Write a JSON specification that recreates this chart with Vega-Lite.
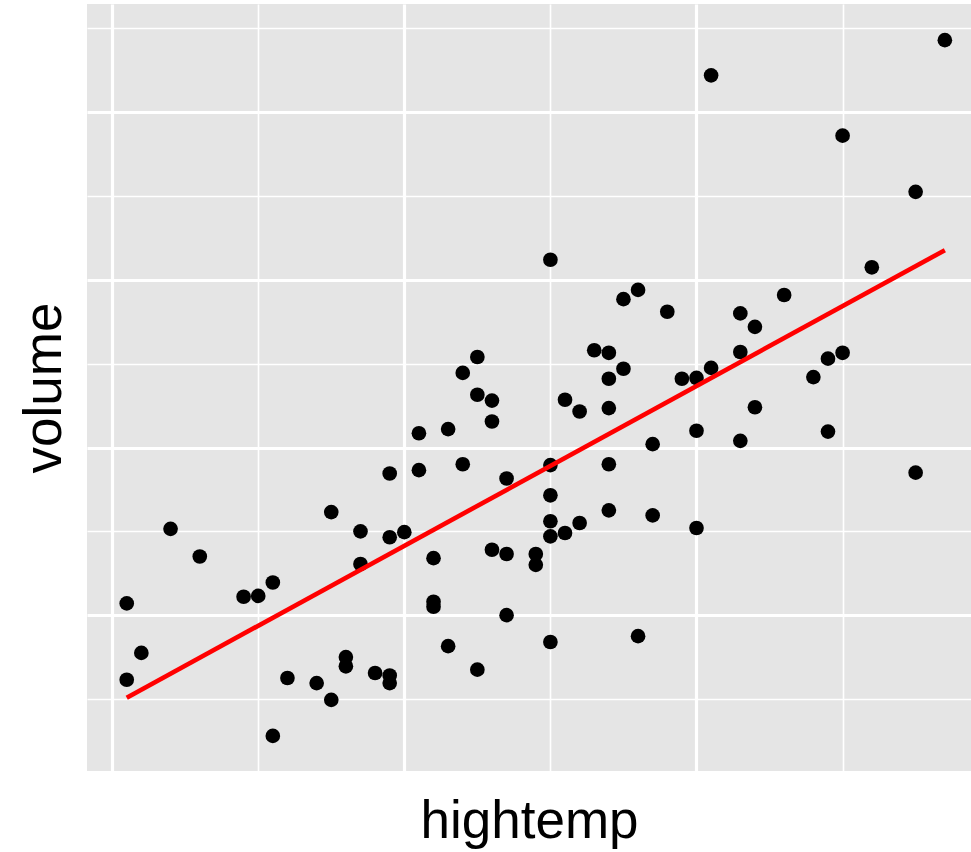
{
  "$schema": "https://vega.github.io/schema/vega-lite/v6.json",
  "width": 884,
  "height": 767,
  "autosize": {"type": "none"},
  "padding": {"left": 87, "top": 4, "right": 0, "bottom": 81},
  "background": "white",
  "config": {
    "view": {"fill": "#E5E5E5", "stroke": null},
    "font": "Liberation Sans"
  },
  "data": {
    "values": [
      {"hightemp": 41, "volume": 214}, {"hightemp": 42, "volume": 155}, {"hightemp": 41, "volume": 123},
      {"hightemp": 44, "volume": 303}, {"hightemp": 46, "volume": 270}, {"hightemp": 49, "volume": 222},
      {"hightemp": 50, "volume": 223}, {"hightemp": 51, "volume": 239}, {"hightemp": 51, "volume": 56},
      {"hightemp": 52, "volume": 125}, {"hightemp": 54, "volume": 119}, {"hightemp": 55, "volume": 99},
      {"hightemp": 55, "volume": 323}, {"hightemp": 56, "volume": 150}, {"hightemp": 56, "volume": 139},
      {"hightemp": 57, "volume": 300}, {"hightemp": 57, "volume": 261}, {"hightemp": 58, "volume": 131},
      {"hightemp": 59, "volume": 128}, {"hightemp": 59, "volume": 119}, {"hightemp": 59, "volume": 369},
      {"hightemp": 59, "volume": 293}, {"hightemp": 60, "volume": 299}, {"hightemp": 61, "volume": 417},
      {"hightemp": 61, "volume": 373}, {"hightemp": 63, "volume": 422}, {"hightemp": 64, "volume": 489},
      {"hightemp": 64, "volume": 380}, {"hightemp": 65, "volume": 508}, {"hightemp": 65, "volume": 463},
      {"hightemp": 66, "volume": 456}, {"hightemp": 66, "volume": 431}, {"hightemp": 62, "volume": 268},
      {"hightemp": 62, "volume": 216}, {"hightemp": 62, "volume": 210}, {"hightemp": 63, "volume": 163},
      {"hightemp": 65, "volume": 135}, {"hightemp": 66, "volume": 278}, {"hightemp": 67, "volume": 273},
      {"hightemp": 67, "volume": 363}, {"hightemp": 67, "volume": 200}, {"hightemp": 69, "volume": 273},
      {"hightemp": 69, "volume": 260}, {"hightemp": 70, "volume": 624}, {"hightemp": 70, "volume": 379},
      {"hightemp": 70, "volume": 343}, {"hightemp": 70, "volume": 312}, {"hightemp": 70, "volume": 294},
      {"hightemp": 70, "volume": 168}, {"hightemp": 71, "volume": 298}, {"hightemp": 71, "volume": 457},
      {"hightemp": 72, "volume": 443}, {"hightemp": 72, "volume": 310}, {"hightemp": 73, "volume": 516},
      {"hightemp": 74, "volume": 513}, {"hightemp": 74, "volume": 482}, {"hightemp": 74, "volume": 447},
      {"hightemp": 74, "volume": 380}, {"hightemp": 74, "volume": 325}, {"hightemp": 75, "volume": 494},
      {"hightemp": 75, "volume": 577}, {"hightemp": 76, "volume": 588}, {"hightemp": 76, "volume": 175},
      {"hightemp": 77, "volume": 404}, {"hightemp": 77, "volume": 319}, {"hightemp": 78, "volume": 562},
      {"hightemp": 79, "volume": 482}, {"hightemp": 80, "volume": 483}, {"hightemp": 80, "volume": 420},
      {"hightemp": 80, "volume": 304}, {"hightemp": 81, "volume": 495}, {"hightemp": 81, "volume": 844},
      {"hightemp": 83, "volume": 560}, {"hightemp": 83, "volume": 514}, {"hightemp": 83, "volume": 408},
      {"hightemp": 84, "volume": 544}, {"hightemp": 84, "volume": 448}, {"hightemp": 86, "volume": 582},
      {"hightemp": 88, "volume": 484}, {"hightemp": 89, "volume": 506}, {"hightemp": 89, "volume": 419},
      {"hightemp": 90, "volume": 513}, {"hightemp": 90, "volume": 772}, {"hightemp": 92, "volume": 615},
      {"hightemp": 95, "volume": 705}, {"hightemp": 95, "volume": 370}, {"hightemp": 97, "volume": 886}
    ]
  },
  "encoding": {
    "x": {
      "field": "hightemp",
      "type": "quantitative",
      "scale": {"domain": [38.28, 98.79], "nice": false, "zero": false},
      "axis": {
        "title": "hightemp",
        "values": [40, 50, 60, 70, 80, 90],
        "domain": false,
        "ticks": false,
        "labels": false,
        "grid": true,
        "gridColor": "#FFFFFF",
        "gridOpacity": 1,
        "gridWidth": {"condition": {"test": "datum.value % 20 === 0", "value": 3.2}, "value": 1.6},
        "titleFont": "Liberation Sans",
        "titleFontSize": 53,
        "titleFontWeight": "normal",
        "titleColor": "#000000",
        "titleBaseline": "alphabetic",
        "titlePadding": 66
      }
    },
    "y": {
      "field": "volume",
      "type": "quantitative",
      "scale": {"domain": [14.1, 929.1], "nice": false, "zero": false},
      "axis": {
        "title": "volume",
        "values": [100, 200, 300, 400, 500, 600, 700, 800, 900],
        "domain": false,
        "ticks": false,
        "labels": false,
        "grid": true,
        "gridColor": "#FFFFFF",
        "gridOpacity": 1,
        "gridWidth": {"condition": {"test": "datum.value % 200 === 0", "value": 3.2}, "value": 1.6},
        "titleFont": "Liberation Sans",
        "titleFontSize": 53,
        "titleFontWeight": "normal",
        "titleColor": "#000000",
        "titleBaseline": "alphabetic",
        "titlePadding": 27
      }
    }
  },
  "layer": [
    {
      "mark": {"type": "point", "filled": true, "shape": "circle", "size": 215, "color": "#000000", "opacity": 1}
    },
    {
      "transform": [{"regression": "volume", "on": "hightemp"}],
      "mark": {"type": "line", "color": "#FF0000", "strokeWidth": 4.6}
    }
  ]
}
